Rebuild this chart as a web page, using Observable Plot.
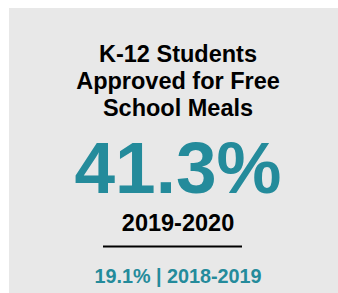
<!DOCTYPE html>
<html>
<head>
<meta charset="utf-8">
<script src="https://cdn.jsdelivr.net/npm/d3@7"></script>
<script src="https://cdn.jsdelivr.net/npm/@observablehq/plot@0.6"></script>
<style>
  html, body { margin: 0; padding: 0; background: #ffffff; }
  svg { display: block; }
</style>
</head>
<body>
<div id="chart"></div>
<script>
// Data
const titleLines = ["K-12 Students", "Approved for Free", "School Meals"];
const currentValue = 41.3;
const currentPeriod = "2019-2020";
const previousValue = 19.1;
const previousPeriod = "2018-2019";

// Layout (pixel positions, style only)
const W = 338, H = 293;
const cx = 177.5;
const teal = "#248b9b";
const font = "Liberation Sans, Arial, Helvetica, sans-serif";

const titleRows = titleLines.map((t, i) => ({text: t, y: 61 + i * 27}));

const chart = Plot.plot({
  width: W,
  height: H,
  margin: 0,
  x: {type: "identity", axis: null},
  y: {type: "identity", axis: null},
  style: {fontFamily: font, background: "#ffffff"},
  marks: [
    Plot.rect([{x1: 9, x2: W, y1: 8, y2: H}], {x1: "x1", x2: "x2", y1: "y1", y2: "y2", fill: "#e8e8e8"}),
    Plot.text(titleRows, {x: () => cx, y: "y", text: "text", fill: "#000000", fontSize: 23.5, fontWeight: "bold", lineAnchor: "bottom", textAnchor: "middle"}),
    Plot.text([currentValue], {x: () => cx, y: () => 192, text: d => d.toFixed(1) + "%", fill: teal, fontSize: 73, fontWeight: "bold", lineAnchor: "bottom", textAnchor: "middle"}),
    Plot.text([currentPeriod], {x: () => cx, y: () => 230, text: d => d, fill: "#000000", fontSize: 23.5, fontWeight: "bold", lineAnchor: "bottom", textAnchor: "middle"}),
    Plot.ruleY([246], {x1: 103, x2: 242, stroke: "#000000", strokeWidth: 2}),
    Plot.text([{v: previousValue, p: previousPeriod}], {x: () => cx, y: () => 282, text: d => `${d.v.toFixed(1)}% | ${d.p}`, fill: teal, fontSize: 19.8, fontWeight: "bold", lineAnchor: "bottom", textAnchor: "middle"})
  ]
});
document.getElementById("chart").appendChild(chart);
</script>
</body>
</html>
